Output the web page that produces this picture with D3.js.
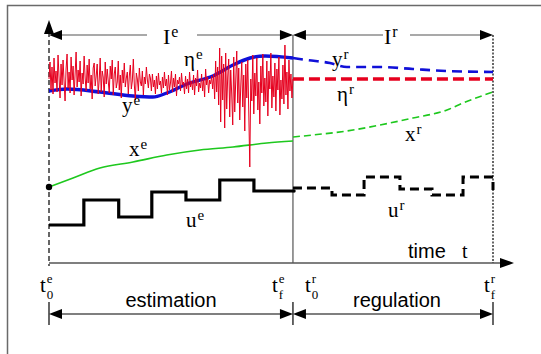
<!DOCTYPE html>
<html>
<head>
<meta charset="utf-8">
<script src="https://cdn.jsdelivr.net/npm/d3@7"></script>
<style>
  body { margin: 0; background: #fff; }
  svg { display: block; }
</style>
</head>
<body>
<div id="chart"></div>
<script>
// phase boundaries (time units = one input step of the estimation phase)
const t0e = 0, tfe = 7, tfr = 12.74;

// measured output y (estimation: solid, regulation: dashed)
const yE = [[0,17.2],[0.52,17.4],[1.46,17.1],[2.41,16.7],[2.98,16.6],[3.38,17.0],[3.96,17.9],[4.70,18.7],[5.28,19.8],[5.77,20.5],[6.20,20.7],[7,20.5]];
const yR = [[7,20.5],[7.40,20.3],[8.06,20.0],[8.55,19.6],[9.50,19.6],[10.44,19.4],[11.42,19.2],[12.74,19.1]];

// noisy measurement eta during estimation (equally spaced samples), setpoint during regulation
const etaE = [
  18.4,20.1,17.3,19.6,16.9,20.5,18.0,19.2,17.1,20.8,
  18.6,16.5,19.9,17.8,20.3,18.2,16.2,19.4,20.9,17.5,
  19.1,17.0,20.6,18.3,19.7,16.8,18.9,21.1,17.6,19.3,
  18.1,20.2,16.7,19.0,17.9,20.7,18.5,17.2,19.8,18.0,
  20.4,17.4,18.8,16.4,19.5,20.0,17.7,18.7,19.9,16.9,
  18.3,20.5,17.1,19.2,18.6,16.6,20.1,17.9,19.4,18.2,
  17.0,19.7,18.4,20.3,16.8,18.9,19.6,17.5,18.1,20.2,
  17.3,18.8,16.5,19.3,18.0,20.0,17.6,18.5,19.1,16.9,
  18.7,19.8,17.4,18.2,20.4,17.8,16.3,19.0,18.4,17.2,
  19.5,18.1,17.7,19.2,16.8,18.6,17.9,19.6,18.3,17.5,
  18.9,
  18.5,17.2,18.9,17.6,18.3,16.9,18.7,17.4,19.0,17.8,
  18.2,17.0,18.6,17.5,19.1,17.7,18.4,16.8,18.8,17.3,
  18.0,19.2,17.1,18.5,17.6,18.9,16.7,18.3,17.9,18.6,
  17.2,19.0,17.8,18.1,16.9,18.7,17.4,18.4,17.0,19.1,
  17.6,18.2,17.3,18.8,16.8,18.5,17.7,19.3,17.1,18.0,
  17.5,18.9,17.2,18.4,16.6,19.4,17.8,18.6,17.0,18.3,
  17.9,18.7,17.4,
  18.9,16.4,20.2,17.1,19.6,15.8,21.5,14.1,20.7,16.3,
  19.9,13.5,21.0,15.4,18.6,20.4,14.6,19.3,16.9,13.8,
  20.6,15.1,18.2,21.2,16.0,19.5,14.3,17.7,20.1,15.6,
  18.8,13.2,19.9,16.5,20.3,15.0,9.6,18.4,16.2,20.8,
  14.9,19.0,16.7,20.5,15.3,18.1,13.9,19.7,17.0,20.9,
  15.7,18.5,16.1,20.2,14.7,19.2,17.4,21.0,15.5,18.7,
  16.6,20.0,15.2,19.4,17.3,20.6,14.8,18.3,16.4,19.8,
  15.9,21.8,16.8,19.1,15.4,20.3,17.2,18.9,16.5,18.4
];
const etaR = [[7,18.4],[12.74,18.4]];

// state x
const xE = [[0,7.6],[0.69,8.5],[1.46,9.5],[2.41,10.1],[3.38,10.8],[4.33,11.3],[5.28,11.6],[6.25,12.0],[7,12.2]];
const xR = [[7,12.6],[7.57,12.8],[8.55,13.2],[9.5,13.8],[10.44,14.5],[11.42,15.3],[11.88,16.0],[12.74,17.1]];

// piecewise constant input u
const uE = [[0,3.8],[1,6.3],[2,4.6],[2.95,7.1],[3.93,6.3],[4.9,8.3],[5.88,7.2],[7,7.2]];
const uR = [[7,7.5],[8.12,6.8],[9.04,8.6],[10.07,7.4],[10.99,6.8],[11.88,8.6],[12.74,7.3]];

const width = 541, height = 354;
const svg = d3.select('#chart').append('svg')
  .attr('width', width).attr('height', height);

const x = d3.scaleLinear().domain([t0e, tfr]).range([49, 493]);
const y = d3.scaleLinear().domain([0, 24.3]).range([263, 20]);

const serif = 'Liberation Serif, Times New Roman, serif';
const sans = 'Liberation Sans, Arial, sans-serif';

// outer frame (cut at right / bottom edge)
svg.append('path').attr('d', 'M7.5,354 V5.5 H541')
  .attr('fill', 'none').attr('stroke', '#6a6a6a').attr('stroke-width', 1.5);

// arrow heads
function tri(px, py, dir, len = 13, half = 5) {
  let pts;
  if (dir === 'left') pts = [[px, py], [px + len, py - half], [px + len, py + half]];
  if (dir === 'right') pts = [[px, py], [px - len, py - half], [px - len, py + half]];
  if (dir === 'up') pts = [[px, py], [px - half, py + len], [px + half, py + len]];
  svg.append('path').attr('d', 'M' + pts.join('L') + 'Z').attr('fill', '#000');
}

// axes
svg.append('line').attr('x1', x(t0e)).attr('x2', 503).attr('y1', y(0)).attr('y2', y(0))
  .attr('stroke', '#555').attr('stroke-width', 1.3);
tri(514, y(0), 'right', 14, 5);
svg.append('line').attr('x1', x(t0e)).attr('x2', x(t0e)).attr('y1', 32).attr('y2', y(0) + 3)
  .attr('stroke', '#000').attr('stroke-width', 1.2).attr('stroke-dasharray', '5,3');
tri(x(t0e), 20, 'up', 14, 5);
svg.append('line').attr('x1', x(tfe)).attr('x2', x(tfe)).attr('y1', 35).attr('y2', y(0))
  .attr('stroke', '#555').attr('stroke-width', 1.2);
svg.append('line').attr('x1', x(tfr)).attr('x2', x(tfr)).attr('y1', 35).attr('y2', y(0))
  .attr('stroke', '#000').attr('stroke-width', 1.2).attr('stroke-dasharray', '2,1.5');

// interval arrows
function interval(a, b, yy, gapL, gapR, color) {
  svg.append('line').attr('x1', x(a) + 10).attr('x2', gapL).attr('y1', yy).attr('y2', yy)
    .attr('stroke', color).attr('stroke-width', 1.2);
  svg.append('line').attr('x1', gapR).attr('x2', x(b) - 10).attr('y1', yy).attr('y2', yy)
    .attr('stroke', color).attr('stroke-width', 1.2);
  tri(x(a), yy, 'left', 13, 5);
  tri(x(b), yy, 'right', 13, 5);
}
interval(t0e, tfe, 35, 147, 197, '#555');
interval(tfe, tfr, 35, 383, 410, '#555');
interval(t0e, tfe, 314, 171, 171, '#000');
interval(tfe, tfr, 314, 393, 393, '#000');
[t0e, tfe, tfr].forEach(t => {
  svg.append('line').attr('x1', x(t)).attr('x2', x(t)).attr('y1', 302).attr('y2', 325)
    .attr('stroke', '#000').attr('stroke-width', 1.2);
});

// series
const line = d3.line().x(d => x(d[0])).y(d => y(d[1]));
const smooth = d3.line().x(d => x(d[0])).y(d => y(d[1])).curve(d3.curveMonotoneX);
const step = d3.line().x(d => x(d[0])).y(d => y(d[1])).curve(d3.curveStepAfter);

const etaPts = etaE.map((v, i) => [tfe * i / (etaE.length - 1), v]);

svg.append('path').attr('d', smooth(xE)).attr('fill', 'none')
  .attr('stroke', '#1ec81e').attr('stroke-width', 1.6);
svg.append('path').attr('d', smooth(xR)).attr('fill', 'none')
  .attr('stroke', '#1ec81e').attr('stroke-width', 1.6).attr('stroke-dasharray', '7,4');

svg.append('path').attr('d', smooth(yE)).attr('fill', 'none')
  .attr('stroke', '#1010d8').attr('stroke-width', 3.4);
svg.append('path').attr('d', smooth(yR)).attr('fill', 'none')
  .attr('stroke', '#1010d8').attr('stroke-width', 2.6).attr('stroke-dasharray', '10,6');

svg.append('path').attr('d', line(etaPts)).attr('fill', 'none')
  .attr('stroke', '#e6001e').attr('stroke-width', 1);
svg.append('path').attr('d', line(etaR)).attr('fill', 'none')
  .attr('stroke', '#e6001e').attr('stroke-width', 3.6).attr('stroke-dasharray', '11,5');

svg.append('path').attr('d', step(uE)).attr('fill', 'none')
  .attr('stroke', '#000').attr('stroke-width', 3.2);
svg.append('path').attr('d', step(uR)).attr('fill', 'none')
  .attr('stroke', '#000').attr('stroke-width', 3).attr('stroke-dasharray', '9,5');

svg.append('circle').attr('cx', x(xE[0][0])).attr('cy', y(xE[0][1])).attr('r', 3.2).attr('fill', '#000');
svg.append('circle').attr('cx', x(tfe) + 1).attr('cy', y(uE[uE.length - 1][1])).attr('r', 1.8).attr('fill', '#000');

// symbol labels with super / subscripts, placed right after the measured base glyph
function sym(px, py, base, sup, sub, size = 21) {
  const t = svg.append('text').attr('x', px).attr('y', py)
    .attr('font-family', serif).attr('font-size', size).attr('fill', '#000').text(base);
  const w = t.node().getComputedTextLength();
  const stacked = sup && sub;
  const ss = stacked ? 13 : Math.round(size * 0.72);
  if (sup) {
    svg.append('text').attr('x', px + w + 1).attr('y', py - (stacked ? 9 : size * 0.34))
      .attr('font-family', serif).attr('font-size', ss).text(sup);
  }
  if (sub) {
    svg.append('text').attr('x', px + w + 1).attr('y', py + 7)
      .attr('font-family', serif).attr('font-size', ss).text(sub);
  }
}

sym(163, 44, 'I', 'e', null, 22);
sym(384, 44, 'I', 'r', null, 22);

sym(184, 66, 'η', 'e', null);
sym(122, 112, 'y', 'e', null);
sym(129, 156, 'x', 'e', null);
sym(186, 227, 'u', 'e', null);
sym(332, 66, 'y', 'r', null);
sym(337, 101, 'η', 'r', null);
sym(405, 141, 'x', 'r', null);
sym(388, 217, 'u', 'r', null);

sym(40, 292, 't', 'e', '0');
sym(272, 292, 't', 'e', 'f');
sym(305, 292, 't', 'r', '0');
sym(484, 292, 't', 'r', 'f');

svg.append('text').attr('x', 408).attr('y', 258).attr('font-family', sans).attr('font-size', 20).text('time');
svg.append('text').attr('x', 462).attr('y', 258).attr('font-family', serif).attr('font-size', 20).text('t');

svg.append('text').attr('x', 171).attr('y', 307).attr('text-anchor', 'middle')
  .attr('font-family', sans).attr('font-size', 20).text('estimation');
svg.append('text').attr('x', 397).attr('y', 307).attr('text-anchor', 'middle')
  .attr('font-family', sans).attr('font-size', 20).text('regulation');
</script>
</body>
</html>
